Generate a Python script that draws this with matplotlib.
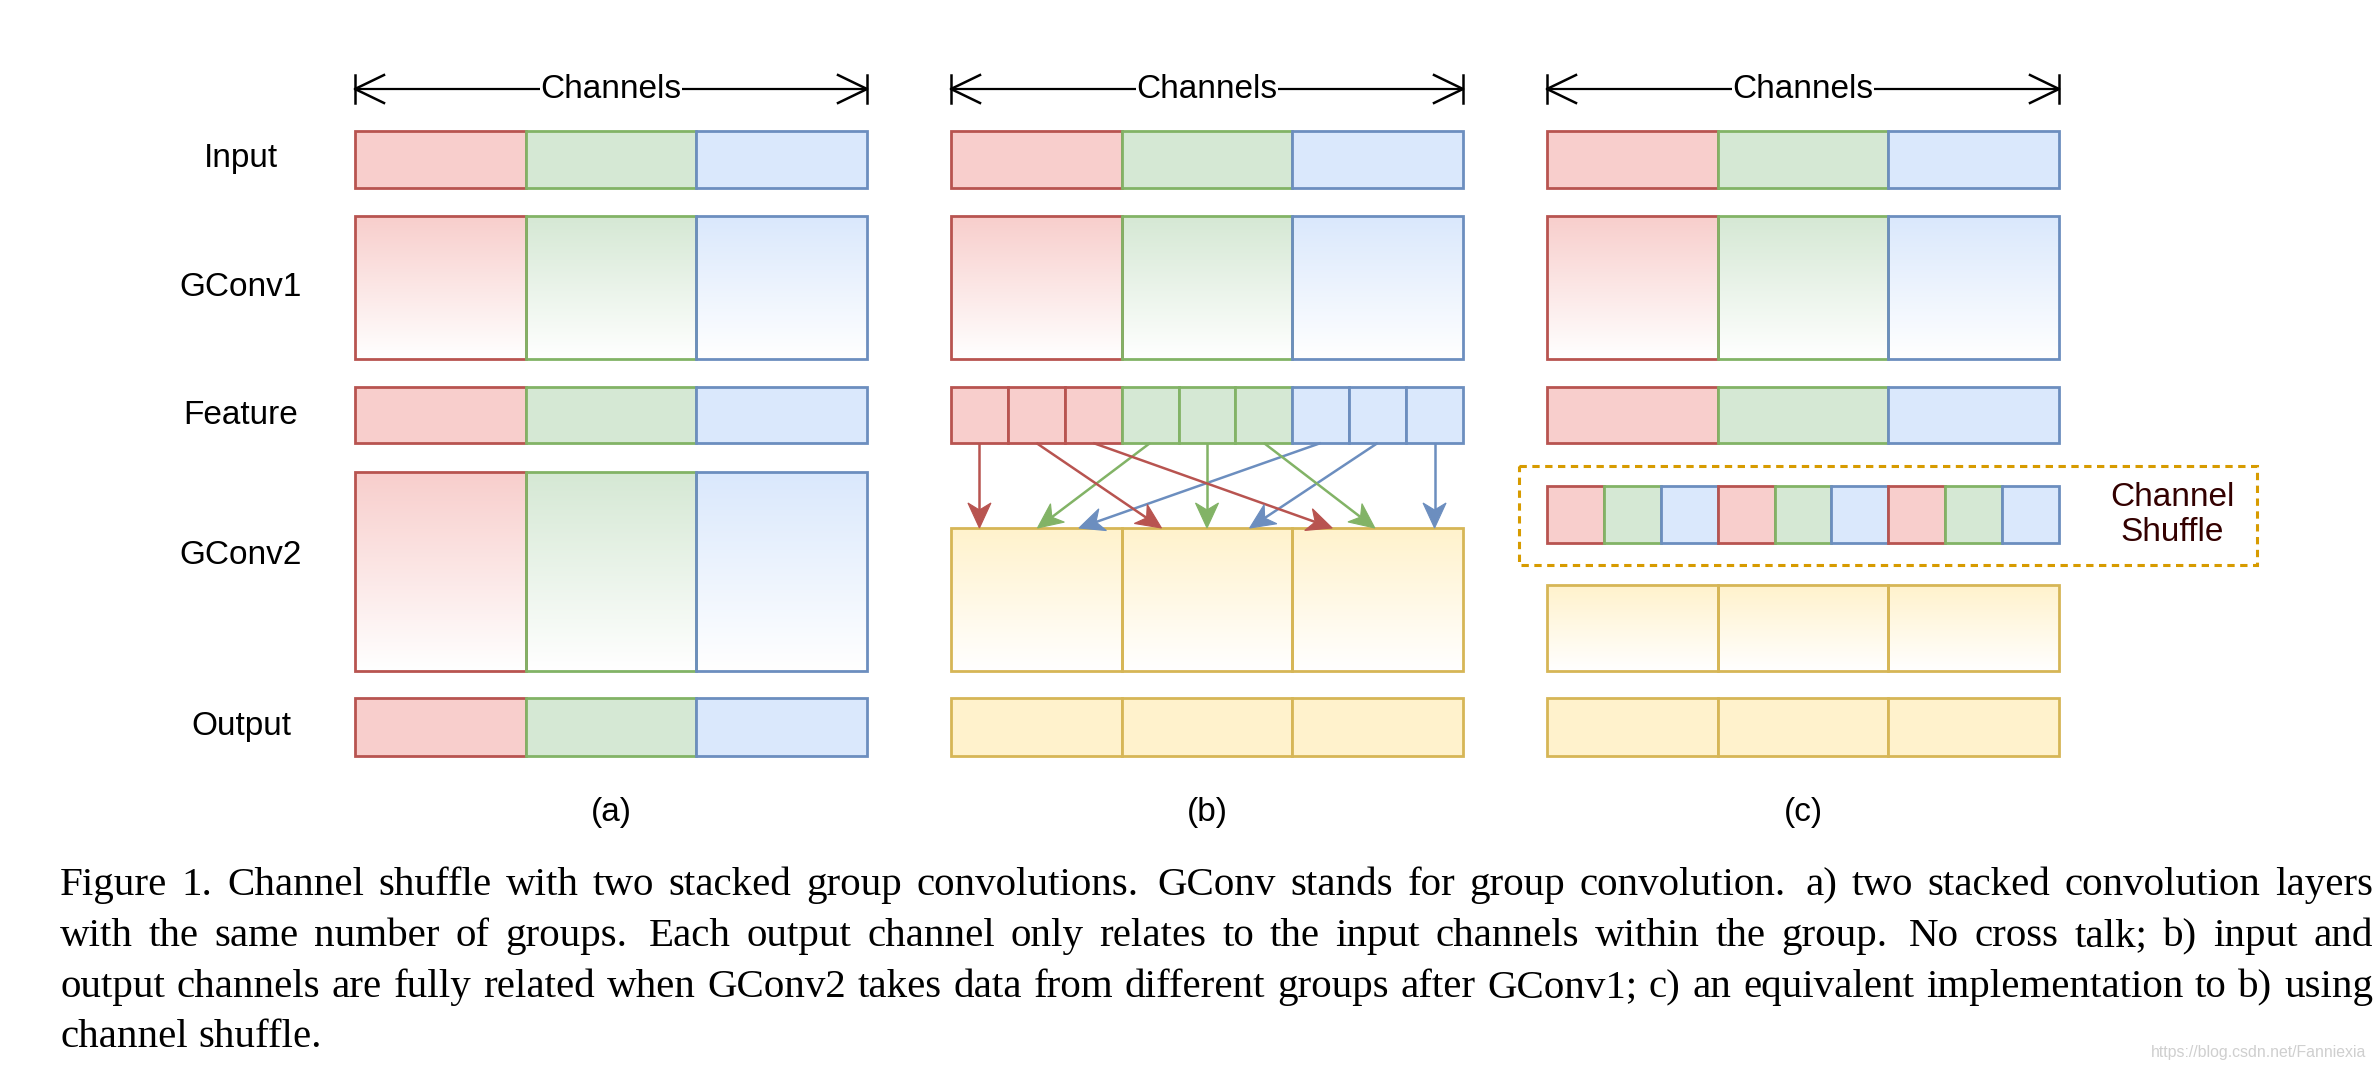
import numpy as np
import matplotlib
matplotlib.use("Agg")
import matplotlib.pyplot as plt
from matplotlib.patches import Rectangle, Polygon
from matplotlib.colors import to_rgb

# ---- diagram content ----
panel_names = ['(a)', '(b)', '(c)']
row_labels = ['Input', 'GConv1', 'Feature', 'GConv2', 'Output']

# colour groups: 0 red, 1 green, 2 blue, 3 yellow
fills = ['#f8cecc', '#d5e8d4', '#dae8fc', '#fff2cc']
edges = ['#b85450', '#82b366', '#6c8ebf', '#d6b656']

groups3 = [0, 1, 2]
yellow3 = [3, 3, 3]
feature_b = [0, 0, 0, 1, 1, 1, 2, 2, 2]
shuffle_c = [0, 1, 2, 0, 1, 2, 0, 1, 2]

# (b): which feature slot feeds which point on top of GConv2 (in slot units)
arrow_src = [0, 3, 6, 1, 4, 7, 2, 5, 8]
arrow_dst = [0.5, 1.52, 2.25, 3.7, 4.5, 5.25, 6.7, 7.45, 8.5]

caption_lines = [
    "Figure 1. Channel shuffle with two stacked group convolutions.  GConv stands for group convolution.  a) two stacked convolution layers",
    "with the same number of groups.  Each output channel only relates to the input channels within the group.  No cross talk; b) input and",
    "output channels are fully related when GConv2 takes data from different groups after GConv1; c) an equivalent implementation to b) using",
    "channel shuffle.",
]
watermark = "https://blog.csdn.net/Fanniexia"

# ---- layout (pixels) ----
W, H = 2376, 1070
panel_x = [355, 951, 1547]
panel_w = 512
label_x = 241
sans = 'Liberation Sans'
serif = 'Liberation Serif'
lw = 2.0

fig = plt.figure(figsize=(W / 100, H / 100), dpi=100)
ax = fig.add_axes([0, 0, 1, 1])
ax.set_xlim(0, W)
ax.set_ylim(H, 0)
ax.axis('off')


def draw_row(x0, y0, y1, cols, gradient=False):
    n = len(cols)
    cw = panel_w / n
    for i, c in enumerate(cols):
        xa = x0 + i * cw
        if gradient:
            top = np.array(to_rgb(fills[c]))
            t = np.linspace(0, 1, 200)[:, None]
            img = (top[None, :] * (1 - t) + np.ones(3)[None, :] * t)[:, None, :]
            ax.imshow(img, extent=(xa, xa + cw, y1, y0), origin='upper',
                      aspect='auto', interpolation='bilinear', zorder=1)
            ax.add_patch(Rectangle((xa, y0), cw, y1 - y0, fill=False,
                                   edgecolor=edges[c], lw=lw, zorder=2))
        else:
            ax.add_patch(Rectangle((xa, y0), cw, y1 - y0, facecolor=fills[c],
                                   edgecolor=edges[c], lw=lw, zorder=2))


def classic_arrow(p0, p1, color):
    p0 = np.array(p0, float)
    p1 = np.array(p1, float)
    d = (p1 - p0) / np.hypot(*(p1 - p0))
    nrm = np.array([-d[1], d[0]])
    L, hw = 25, 11.5
    notch = p1 - 0.72 * L * d
    ax.plot([p0[0], notch[0]], [p0[1], notch[1]], color=color, lw=1.8,
            solid_capstyle='butt', zorder=3)
    head = [p1, p1 - L * d + hw * nrm, notch, p1 - L * d - hw * nrm]
    ax.add_patch(Polygon(head, closed=True, facecolor=color, edgecolor=color,
                         lw=0.8, zorder=4))


# "Channels" dimension arrows
for x0 in panel_x:
    y = 89
    x1 = x0 + panel_w
    ax.plot([x0, x1], [y, y], color='black', lw=1.6, zorder=2)
    for xe, s in [(x0, 1), (x1, -1)]:
        ax.plot([xe, xe], [y - 14, y + 14], color='black', lw=1.8, zorder=2)
        ax.plot([xe + s * 29, xe, xe + s * 29], [y - 14, y, y + 14],
                color='black', lw=1.8, zorder=2)
    ax.text(x0 + panel_w / 2, y, 'Channels', ha='center', va='center',
            fontsize=24, family=sans, zorder=5,
            bbox=dict(facecolor='white', edgecolor='none', pad=0))

# row labels
for lab, yc in zip(row_labels, [159, 287, 415, 556, 726]):
    ax.text(label_x, yc, lab, ha='center', va='center', fontsize=24, family=sans)

# common top rows
for x0 in panel_x:
    draw_row(x0, 131, 188, groups3)
    draw_row(x0, 216, 359, groups3, gradient=True)

# panel (a)
xa = panel_x[0]
draw_row(xa, 387, 443, groups3)
draw_row(xa, 472, 671, groups3, gradient=True)
draw_row(xa, 698, 756, groups3)

# panel (b)
xb = panel_x[1]
draw_row(xb, 387, 443, feature_b)
draw_row(xb, 528, 671, yellow3, gradient=True)
draw_row(xb, 698, 756, yellow3)
slot = panel_w / len(feature_b)
for s, t in zip(arrow_src, arrow_dst):
    classic_arrow((xb + (s + 0.5) * slot, 443), (xb + t * slot, 528),
                  edges[feature_b[s]])

# panel (c)
xc = panel_x[2]
draw_row(xc, 387, 443, groups3)
draw_row(xc, 486, 543, shuffle_c)
draw_row(xc, 585, 671, yellow3, gradient=True)
draw_row(xc, 698, 756, yellow3)
ax.add_patch(Rectangle((1519, 466), 2257 - 1519, 565 - 466, fill=False,
                       edgecolor='#d79b00', lw=2.2, linestyle=(0, (2.4, 1.8)),
                       zorder=2))
ax.text(2172, 515, 'Channel\nShuffle', ha='center', va='center', fontsize=24,
        family=sans, color='#330000', linespacing=1.2)

# panel names
for x0, name in zip(panel_x, panel_names):
    ax.text(x0 + panel_w / 2, 812, name, ha='center', va='center',
            fontsize=24, family=sans)

# caption, justified like the paper
fig.canvas.draw()
renderer = fig.canvas.get_renderer()
left, right = 60, 2373
baselines = [895, 946, 997, 1047]
for k, (line, yb) in enumerate(zip(caption_lines, baselines)):
    words = line.replace('  ', ' \u0000').split(' ')
    objs, widths, stretch = [], [], []
    for w in words:
        wide = w.startswith('\u0000')
        w = w.replace('\u0000', '')
        t = ax.text(0, yb, w, ha='left', va='baseline', fontsize=29.5,
                    family=serif)
        objs.append(t)
        widths.append(t.get_window_extent(renderer).width)
        stretch.append(1.35 if wide else 1.0)
    last = k == len(caption_lines) - 1
    if last:
        gap_unit = 0.25 * 41
    else:
        gap_unit = (right - left - sum(widths)) / sum(stretch[1:])
    x = left
    for i, (t, w) in enumerate(zip(objs, widths)):
        if i > 0:
            x += gap_unit * stretch[i]
        t.set_x(x)
        x += w

ax.text(2366, 1052, watermark, ha='right', va='center', fontsize=11.4,
        family=sans, color='#cfcfcf')

fig.savefig('out.png', dpi=100, facecolor='white')
